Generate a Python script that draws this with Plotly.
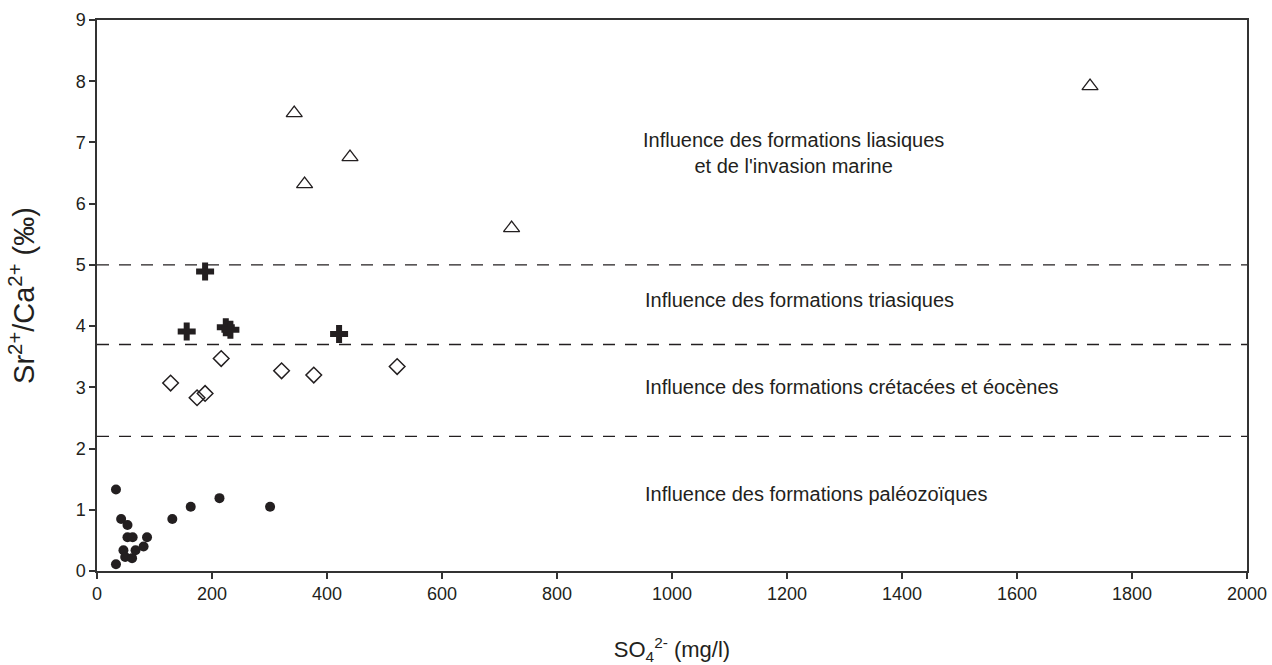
import plotly.graph_objects as go

# Paléozoïque (filled dots)
paleo_x = [33, 42, 53, 53, 62, 87, 46, 49, 61, 67, 81, 33, 131, 163, 213, 301]
paleo_y = [1.33, 0.85, 0.75, 0.55, 0.55, 0.55, 0.34, 0.23, 0.21, 0.34, 0.40, 0.11, 0.85, 1.05, 1.19, 1.05]

# Crétacé / Eocène (open diamonds)
cret_x = [128, 174, 188, 216, 321, 377, 522]
cret_y = [3.07, 2.83, 2.90, 3.47, 3.27, 3.20, 3.34]

# Trias (black crosses)
trias_x = [188, 156, 224, 232, 421]
trias_y = [4.89, 3.91, 3.98, 3.94, 3.87]

# Lias / invasion marine (open triangles)
lias_x = [343, 440, 361, 721, 1727]
lias_y = [7.48, 6.76, 6.32, 5.60, 7.92]

# Threshold lines
thresholds = [5.0, 3.7, 2.2]

# Zone labels
zone_text = [
    "Influence des formations liasiques<br>et de l'invasion marine",
    "Influence des formations triasiques",
    "Influence des formations crétacées et éocènes",
    "Influence des formations paléozoïques",
]
zone_x = [1212, 950, 950, 950]
zone_y = [6.83, 4.43, 3.01, 1.26]
zone_anchor = ["center", "left", "left", "left"]

ink = "#231f20"
font = "Liberation Sans"

fig = go.Figure()
fig.add_trace(go.Scatter(x=paleo_x, y=paleo_y, mode="markers",
                         marker=dict(symbol="circle", size=10, color=ink, line=dict(width=0))))
fig.add_trace(go.Scatter(x=cret_x, y=cret_y, mode="markers",
                         marker=dict(symbol="diamond-open", size=12, color=ink, line=dict(width=1.5))))
fig.add_trace(go.Scatter(x=trias_x, y=trias_y, mode="markers",
                         marker=dict(symbol="cross", size=15, color=ink, line=dict(width=0))))
fig.add_trace(go.Scatter(x=lias_x, y=lias_y, mode="markers",
                         marker=dict(symbol="triangle-up-open", size=14, color=ink, line=dict(width=1.3))))

for t in thresholds:
    fig.add_shape(type="line", xref="paper", x0=0, x1=1, yref="y", y0=t, y1=t,
                  line=dict(color=ink, width=1.3, dash="12px,10px"))

for txt, x, y, a in zip(zone_text, zone_x, zone_y, zone_anchor):
    fig.add_annotation(x=x, y=y, text=txt, showarrow=False, xanchor=a, yanchor="middle",
                       align="center", font=dict(family=font, size=20, color=ink))

axis_common = dict(showgrid=False, zeroline=False, showline=True, linecolor="#333333",
                   linewidth=1.5, mirror=True, ticks="outside", ticklen=6, tickwidth=1.5,
                   tickcolor="#333333", tickfont=dict(family=font, size=18, color=ink),
                   automargin=False)

fig.update_xaxes(range=[0, 2000], tickvals=list(range(0, 2001, 200)),
                 title=dict(text="SO<sub>4</sub><sup>2-</sup> (mg/l)", standoff=42,
                            font=dict(family=font, size=22, color=ink)),
                 **axis_common)
fig.update_yaxes(range=[0, 9], tickvals=list(range(0, 10)),
                 title=dict(text="Sr<sup>2+</sup>/Ca<sup>2+</sup> (‰)", standoff=32,
                            font=dict(family=font, size=29, color=ink)),
                 **axis_common)

fig.update_layout(width=1272, height=665, showlegend=False,
                  plot_bgcolor="white", paper_bgcolor="white",
                  font=dict(family=font, color=ink),
                  margin=dict(l=97, r=25, t=20, b=94, autoexpand=False))

fig.write_html("out.html")
